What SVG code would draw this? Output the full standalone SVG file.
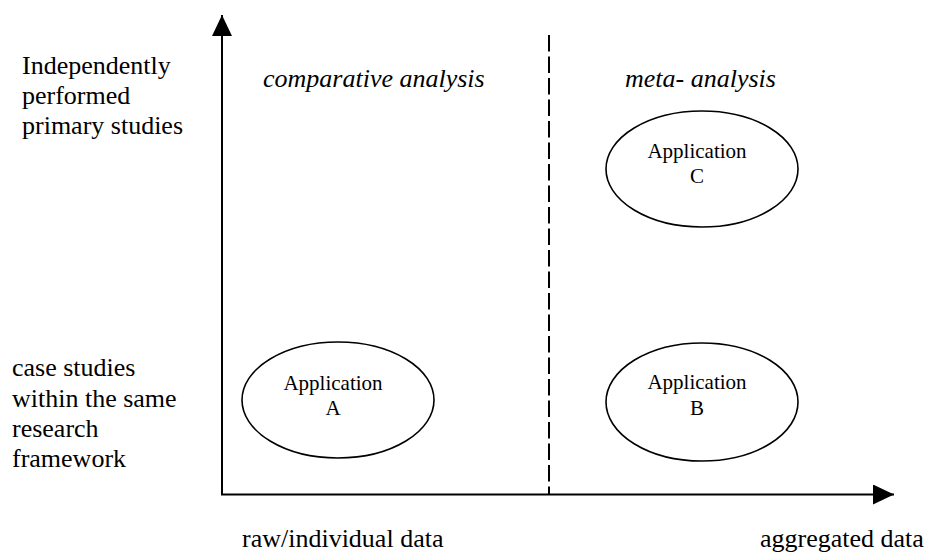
<svg xmlns="http://www.w3.org/2000/svg" width="931" height="555" viewBox="0 0 931 555" font-family="'Liberation Serif', serif">
<style>
text { font-family: 'Liberation Serif', serif; fill: #000; }
.lbl { font-size: 26px; }
.it { font-size: 26px; font-style: italic; }
.app { font-size: 21px; text-anchor: middle; }
.ell { fill: #fff; stroke: #000; stroke-width: 1.6; }
.axis { stroke: #000; stroke-width: 2; fill: none; }
</style>
<defs>
<marker id="arr" markerWidth="21" markerHeight="20" refX="21" refY="10" orient="auto" markerUnits="userSpaceOnUse">
<path d="M0,0 L21,10 L0,20 Z" fill="#000"/>
</marker>
</defs>
<g id="connectors">
<line class="axis" x1="222" y1="495" x2="222" y2="15" marker-end="url(#arr)"/>
<line class="axis" x1="221" y1="494.5" x2="894" y2="494.5" marker-end="url(#arr)"/>
<line x1="549" y1="35" x2="549" y2="494" stroke="#000" stroke-width="2" stroke-dasharray="16.5,5"/>
</g>
<g id="ylabel-top">
<text class="lbl" x="22" y="74">Independently</text>
<text class="lbl" x="22" y="104">performed</text>
<text class="lbl" x="22" y="134">primary studies</text>
</g>
<g id="ylabel-bottom">
<text class="lbl" x="12" y="376">case studies</text>
<text class="lbl" x="12" y="407">within the same</text>
<text class="lbl" x="12" y="437">research</text>
<text class="lbl" x="12" y="467">framework</text>
</g>
<g id="region-comparative">
<text class="it" x="263" y="87">comparative analysis</text>
</g>
<g id="region-meta">
<text class="it" x="625" y="87">meta- analysis</text>
</g>
<g id="xlabel-left">
<text class="lbl" x="242" y="547">raw/individual data</text>
</g>
<g id="xlabel-right">
<text class="lbl" x="760" y="547">aggregated data</text>
</g>
<g id="appC">
<ellipse class="ell" cx="702" cy="169" rx="96" ry="58"/>
<text class="app" x="697" y="158">Application</text>
<text class="app" x="697" y="183">C</text>
</g>
<g id="appA">
<ellipse class="ell" cx="338" cy="400" rx="96" ry="58"/>
<text class="app" x="333" y="390">Application</text>
<text class="app" x="333" y="415">A</text>
</g>
<g id="appB">
<ellipse class="ell" cx="702" cy="402" rx="96" ry="59"/>
<text class="app" x="697" y="389">Application</text>
<text class="app" x="697" y="415">B</text>
</g>
</svg>
